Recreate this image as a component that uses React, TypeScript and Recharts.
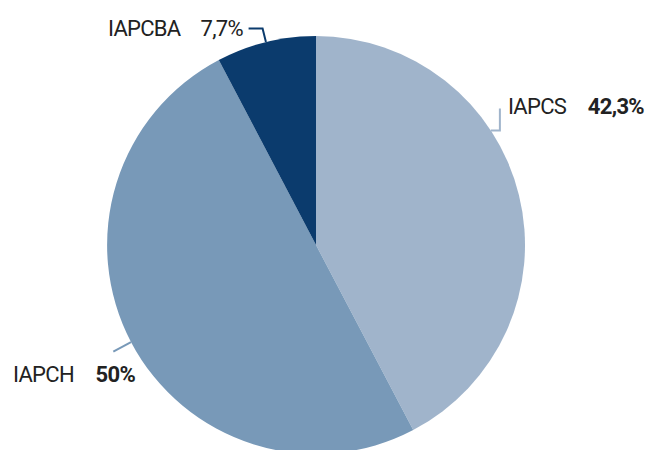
import React from "react";
import { PieChart, Pie, Cell } from "recharts";

// Répartition
const categories = ["IAPCS", "IAPCH", "IAPCBA"];
const shares = [42.3, 50, 7.7];
const valueLabels = ["42,3%", "50%", "7,7%"];

const COLORS = ["#a0b4cb", "#7899b8", "#0b3b6d"];
const FONT = "Roboto, sans-serif";

const data = categories.map((name, i) => ({ name, value: shares[i] }));

const RAD = Math.PI / 180;

// label layout per slice (angle override, leader and text offsets from the rim point)
const renderLabel = (props: any) => {
  const { cx, cy, outerRadius, midAngle, index } = props;
  const angle = index === 0 ? 33.2 : midAngle;
  const x0 = cx + outerRadius * Math.cos(-angle * RAD);
  const y0 = cy + outerRadius * Math.sin(-angle * RAD);
  const color = COLORS[index];
  let points: number[][] = [];
  let name = { x: 0, y: 0, anchor: "start" };
  let val = { x: 0, y: 0, anchor: "end", weight: 700 };

  if (index === 0) {
    points = [[x0, y0], [x0 + 9, y0], [x0 + 9, y0 - 22]];
    name = { x: x0 + 17, y: y0 - 17, anchor: "start" };
    val = { x: x0 + 153, y: y0 - 17, anchor: "end", weight: 700 };
  } else if (index === 1) {
    const x1 = cx + (outerRadius + 20) * Math.cos(-angle * RAD);
    const y1 = cy + (outerRadius + 20) * Math.sin(-angle * RAD);
    points = [[x0, y0], [x1, y1]];
    name = { x: x0 - 118, y: y0 + 40, anchor: "start" };
    val = { x: x0 + 4, y: y0 + 40, anchor: "end", weight: 700 };
  } else {
    const x1 = cx + (outerRadius + 14) * Math.cos(-angle * RAD);
    const y1 = cy + (outerRadius + 14) * Math.sin(-angle * RAD);
    points = [[x0, y0], [x1, y1], [x1 - 14, y1]];
    name = { x: x0 - 158, y: y0 - 6, anchor: "start" };
    val = { x: x0 - 23, y: y0 - 6, anchor: "end", weight: 400 };
  }

  return (
    <g key={`label-${index}`}>
      <polyline
        points={points.map((p) => p.join(",")).join(" ")}
        fill="none"
        stroke={color}
        strokeWidth={2}
      />
      <text
        x={name.x}
        y={name.y}
        textAnchor={name.anchor as any}
        fill="#222"
        fontSize={22}
        letterSpacing={-0.7}
        fontFamily={FONT}
      >
        {categories[index]}
      </text>
      <text
        x={val.x}
        y={val.y}
        textAnchor={val.anchor as any}
        fill="#222"
        fontSize={22}
        letterSpacing={-0.7}
        fontWeight={val.weight}
        fontFamily={FONT}
      >
        {valueLabels[index]}
      </text>
    </g>
  );
};

const App: React.FC = () => {
  return (
    <div style={{ position: "absolute", left: 0, top: 0, background: "#fff" }}>
      <PieChart width={651} height={450} margin={{ top: 0, right: 0, bottom: 0, left: 0 }}>
        <Pie
          data={data}
          dataKey="value"
          nameKey="name"
          cx={316}
          cy={245}
          outerRadius={209}
          startAngle={90}
          endAngle={-270}
          stroke="none"
          label={renderLabel}
          labelLine={false}
          isAnimationActive={false}
        >
          {data.map((_, i) => (
            <Cell key={i} fill={COLORS[i]} />
          ))}
        </Pie>
      </PieChart>
    </div>
  );
};

export default App;
